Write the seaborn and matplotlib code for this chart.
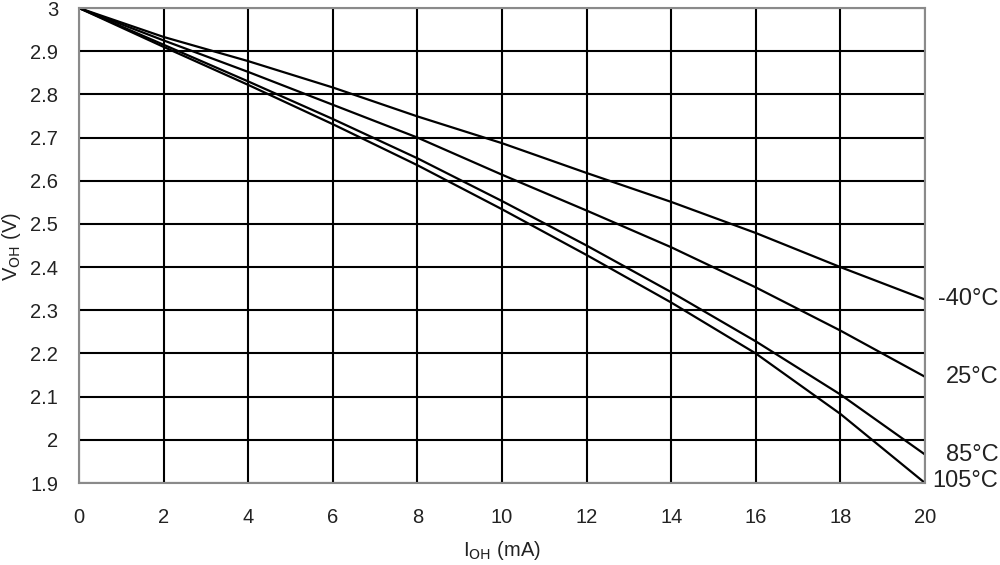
import matplotlib
matplotlib.use('Agg')
import numpy as np
import pandas as pd
import matplotlib.pyplot as plt
import seaborn as sns

# I_OH in mA, V_OH in V
i_oh = [0, 2, 4, 6, 8, 10, 12, 14, 16, 18, 20]
v_m40 = [3.0, 2.933, 2.877, 2.816, 2.749, 2.687, 2.618, 2.551, 2.479, 2.400, 2.325]
v_25 = [3.0, 2.925, 2.852, 2.776, 2.700, 2.614, 2.531, 2.446, 2.353, 2.253, 2.146]
v_85 = [3.0, 2.915, 2.830, 2.743, 2.652, 2.553, 2.450, 2.342, 2.228, 2.105, 1.966]
v_105 = [3.0, 2.910, 2.822, 2.731, 2.636, 2.534, 2.428, 2.318, 2.200, 2.060, 1.900]
temps = ['-40°C', '25°C', '85°C', '105°C']

df = pd.DataFrame({
    'I': i_oh * 4,
    'V': v_m40 + v_25 + v_85 + v_105,
    'Temp': [t for t in temps for _ in i_oh],
})

sns.set_theme(style="white")
plt.rcParams['font.family'] = ['Liberation Sans', 'DejaVu Sans']

fig = plt.figure(figsize=(10, 5.65), dpi=100)
ax = fig.add_axes([0.079, 0.1451, 0.846, 0.8407])

sns.lineplot(data=df, x='I', y='V', hue='Temp', palette=['black'] * 4,
             linewidth=1.6, legend=False, ax=ax)

ax.set_xlim(0, 20)
ax.set_ylim(1.9, 3.0)
ax.set_xticks(np.arange(0, 21, 2))
ax.set_yticks(np.round(np.arange(1.9, 3.01, 0.1), 1))
ax.set_yticklabels(['1.9', '2', '2.1', '2.2', '2.3', '2.4', '2.5',
                    '2.6', '2.7', '2.8', '2.9', '3'])
ax.grid(True, color='black', linewidth=1.5)
for s in ax.spines.values():
    s.set_color('#8a8a8a')
    s.set_linewidth(1.5)
ax.tick_params(axis='both', direction='out', length=6, width=1.2, color='#8a8a8a',
               labelsize=14.5, labelcolor='#222222')
ax.tick_params(axis='y', pad=9)
ax.tick_params(axis='x', pad=12)

ax.set_xlabel('I$_{\\rm OH}$ (mA)', fontsize=14.5, color='#222222')
ax.set_ylabel('V$_{\\rm OH}$ (V)', fontsize=14.5, color='#222222')
ax.xaxis.set_label_coords(0.5, -0.118)
ax.yaxis.set_label_coords(-0.066, 0.497)

# curve labels at the right-hand ends
ends = [v_m40[-1], v_25[-1], v_85[-1], v_105[-1] + 0.005]
for t, y in zip(temps, ends):
    ax.text(21.73, y, t, ha='right', va='center', fontsize=17,
            color='#222222', clip_on=False)

fig.savefig('out.png', dpi=100)
